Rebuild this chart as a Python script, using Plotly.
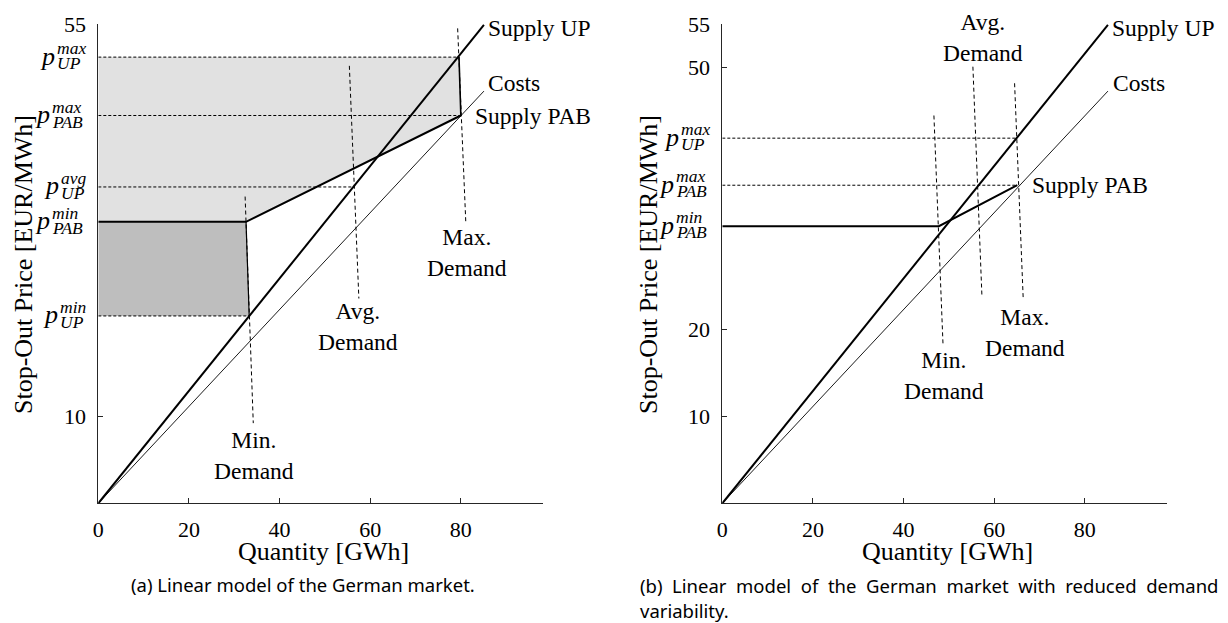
import plotly.graph_objects as go

# ---------------- data ----------------
# common curves
supply_up_q = [0, 85.1]
supply_up_p = [0, 54.9]
costs_q = [0, 85.1]
costs_p = [0, 47.3]

# panel (a)
a_pab_q = [0, 32.6, 80.0]
a_pab_p = [32.3, 32.3, 44.5]
a_min_dem_q = [32.4, 34.2]
a_min_dem_p = [35.2, 9.2]
a_avg_dem_q = [55.4, 57.5]
a_avg_dem_p = [50.2, 23.5]
a_max_dem_q = [79.3, 81.1]
a_max_dem_p = [54.5, 32.2]
a_levels = [51.2, 44.5, 36.3, 32.3, 21.5]          # p_UP^max, p_PAB^max, p_UP^avg, p_PAB^min, p_UP^min
a_level_ends = [79.6, 80.0, 56.6, 0.0, 33.3]        # where the dashed guide stops
a_light_q = [0, 0, 79.6, 80.0, 32.6]
a_light_p = [32.3, 51.2, 51.2, 44.5, 32.3]
a_dark_q = [0, 32.6, 33.3, 0]
a_dark_p = [32.3, 32.3, 21.5, 21.5]

# panel (b)
b_pab_q = [0, 47.8, 65.1]
b_pab_p = [31.8, 31.8, 36.5]
b_min_dem_q = [46.7, 48.7]
b_min_dem_p = [44.5, 18.3]
b_avg_dem_q = [55.3, 57.3]
b_avg_dem_p = [50.1, 23.7]
b_max_dem_q = [64.5, 66.4]
b_max_dem_p = [48.2, 23.5]
b_levels = [41.9, 36.5, 31.8]                        # p_UP^max, p_PAB^max, p_PAB^min
b_level_ends = [65.0, 65.1, 0.0]

x_ticks = [0, 20, 40, 60, 80]
a_y_ticks = [10, 55]
b_y_ticks = [10, 20, 50, 55]
a_plabels = [("max", "UP"), ("max", "PAB"), ("avg", "UP"), ("min", "PAB"), ("min", "UP")]
b_plabels = [("max", "UP"), ("max", "PAB"), ("min", "PAB")]

# ---------------- styling ----------------
SERIF = "Liberation Serif"
SANS = "Noto Sans"
INK = "#000000"
AX = "#262626"
W, H = 1228, 623

fig = go.Figure()


def add_line(q, p, xa, ya, width=1.0, dash="solid"):
    fig.add_trace(go.Scatter(x=q, y=p, xaxis=xa, yaxis=ya, mode="lines",
                             line=dict(color=INK, width=width, dash=dash),
                             hoverinfo="skip", showlegend=False))


def add_poly(q, p, xa, ya, color):
    fig.add_trace(go.Scatter(x=q, y=p, xaxis=xa, yaxis=ya, mode="lines", fill="toself",
                             fillcolor=color, line=dict(width=0, color=color),
                             hoverinfo="skip", showlegend=False))


# panel (a)
add_poly(a_light_q, a_light_p, "x", "y", "#e1e1e1")
add_poly(a_dark_q, a_dark_p, "x", "y", "#bebebe")
for lev, end in zip(a_levels, a_level_ends):
    if end > 0:
        add_line([0, end], [lev, lev], "x", "y", 1.0, "3px,2px")
for q, p in [(a_min_dem_q, a_min_dem_p), (a_avg_dem_q, a_avg_dem_p), (a_max_dem_q, a_max_dem_p)]:
    add_line(q, p, "x", "y", 1.0, "4px,3px")
# solid edges of the shaded areas along the demand curves
add_line([a_light_q[2], a_light_q[3]], [a_light_p[2], a_light_p[3]], "x", "y", 1.6)
add_line([a_dark_q[1], a_dark_q[2]], [a_dark_p[1], a_dark_p[2]], "x", "y", 1.2)
add_line(costs_q, costs_p, "x", "y", 0.9)
add_line(supply_up_q, supply_up_p, "x", "y", 2.0)
add_line(a_pab_q, a_pab_p, "x", "y", 2.0)

# panel (b)
for lev, end in zip(b_levels, b_level_ends):
    if end > 0:
        add_line([0, end], [lev, lev], "x2", "y2", 1.0, "3px,2px")
for q, p in [(b_min_dem_q, b_min_dem_p), (b_avg_dem_q, b_avg_dem_p), (b_max_dem_q, b_max_dem_p)]:
    add_line(q, p, "x2", "y2", 1.0, "4px,3px")
add_line(costs_q, costs_p, "x2", "y2", 0.9)
add_line(supply_up_q, supply_up_p, "x2", "y2", 2.0)
add_line(b_pab_q, b_pab_p, "x2", "y2", 2.0)

# ---------------- axes ----------------
x_dom_a = [98.3 / W, 543.3 / W]
x_dom_b = [722.3 / W, 1167.3 / W]
y_dom = [1 - 503.3 / H, 1 - 24.0 / H]

axis_common = dict(showgrid=False, zeroline=False, showline=True, linecolor=AX, linewidth=1,
                   ticks="inside", ticklen=5, tickcolor=AX, tickwidth=1, automargin=False,
                   tickfont=dict(family=SERIF, size=22, color=INK))

fig.update_layout(
    width=W, height=H, margin=dict(l=0, r=0, t=0, b=0, pad=0),
    paper_bgcolor="white", plot_bgcolor="white",
    xaxis=dict(domain=x_dom_a, range=[0, 98.2], tickvals=x_ticks, anchor="y",
               ticklabelstandoff=6, **axis_common),
    yaxis=dict(domain=y_dom, range=[0, 55], tickvals=a_y_ticks, anchor="x",
               ticklabelstandoff=7, **axis_common),
    xaxis2=dict(domain=x_dom_b, range=[0, 98.2], tickvals=x_ticks, anchor="y2",
                ticklabelstandoff=6, **axis_common),
    yaxis2=dict(domain=y_dom, range=[0, 55], tickvals=b_y_ticks, anchor="x2",
                ticklabelstandoff=7, **axis_common),
)

ann = []


def text(x, y, t, xref, yref, xanchor="left", size=23.5, family=SERIF, **kw):
    ann.append(dict(x=x, y=y, xref=xref, yref=yref, text=t, showarrow=False,
                    xanchor=xanchor, yanchor="middle", font=dict(family=family, size=size, color=INK), **kw))


# p labels on the y axis (p with stacked superscript / subscript)
sup_sub_width = {"max": 31, "min": 28, "avg": 26, "UP": 27, "PAB": 36}


def plabel(level, sup, sub, xref, yref):
    w = max(sup_sub_width[sup], sup_sub_width[sub])
    base = -(12 + w)
    text(0, level, "<i>p</i>", xref, yref, xanchor="right", size=26, xshift=base + 2, yshift=1)
    text(0, level, "<i>%s</i>" % sup, xref, yref, xanchor="left", size=17.5, xshift=base, yshift=9)
    text(0, level, "<i>%s</i>" % sub, xref, yref, xanchor="left", size=17.5, xshift=base, yshift=-6)


for lev, (sp, sb) in zip(a_levels, a_plabels):
    plabel(lev, sp, sb, "x", "y")
for lev, (sp, sb) in zip(b_levels, b_plabels):
    plabel(lev, sp, sb, "x2", "y2")

# curve labels panel (a)
text(85.6, 54.5, "Supply UP", "x", "y")
text(85.6, 48.2, "Costs", "x", "y")
text(82.6, 44.5, "Supply PAB", "x", "y")
text(81.4, 28.8, "Max.<br>Demand", "x", "y", xanchor="center")
text(57.3, 20.3, "Avg.<br>Demand", "x", "y", xanchor="center")
text(34.4, 5.5, "Min.<br>Demand", "x", "y", xanchor="center")

# curve labels panel (b)
text(85.6, 54.5, "Supply UP", "x2", "y2")
text(85.8, 48.2, "Costs", "x2", "y2")
text(68.0, 36.5, "Supply PAB", "x2", "y2")
text(57.5, 53.5, "Avg.<br>Demand", "x2", "y2", xanchor="center")
text(66.7, 19.6, "Max.<br>Demand", "x2", "y2", xanchor="center")
text(48.9, 14.7, "Min.<br>Demand", "x2", "y2", xanchor="center")

# axis titles
for xc in (323 / W, 947 / W):
    text(xc, 1 - 551 / H, "Quantity [GWh]", "paper", "paper", xanchor="center", size=26)
for xc in (23 / W, 648 / W):
    text(xc, 1 - 265 / H, "Stop-Out Price [EUR/MWh]", "paper", "paper", xanchor="center", size=26,
         textangle=-90)

# captions (second caption justified by widened word gaps)
cap_b_words = ["(b)", "Linear", "model", "of", "the", "German", "market", "with", "reduced", "demand"]
cap_b = "&nbsp;&nbsp;".join(cap_b_words)
text(303 / W, 1 - 584 / H, "(a) Linear model of the German market.", "paper", "paper",
     xanchor="center", size=18.5, family=SANS)
text(638 / W, 1 - 585 / H, cap_b, "paper", "paper", xanchor="left", size=18.5, family=SANS)
text(638 / W, 1 - 610 / H, "variability.", "paper", "paper", xanchor="left", size=18.5, family=SANS)

fig.update_layout(annotations=ann)
fig.write_html("out.html", config={"displayModeBar": False},
               post_script="document.body.style.margin='0';document.body.style.overflow='hidden';")
